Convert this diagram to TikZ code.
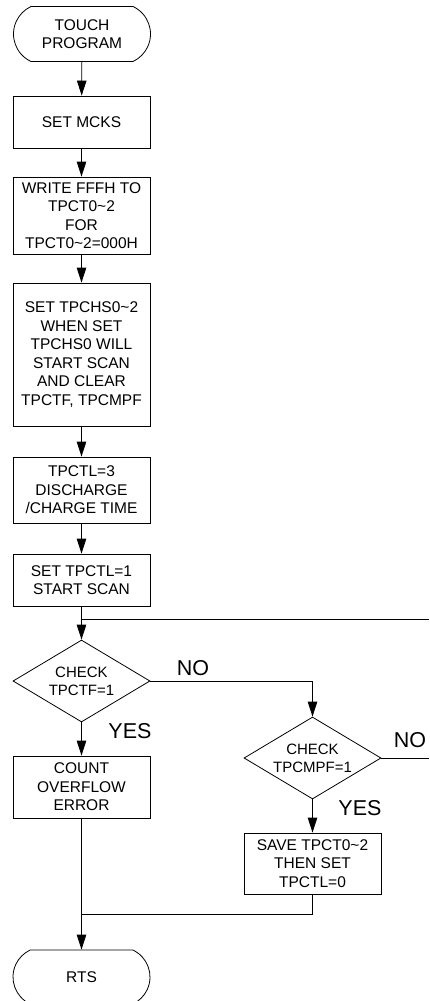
\documentclass[tikz,border=0pt]{standalone}
\usepackage{fontspec}
\setmainfont{Liberation Sans}
\usetikzlibrary{shapes.misc,shapes.geometric,arrows.meta}
\begin{document}
\begin{tikzpicture}[x=1pt,y=-1pt,line width=0.8pt,
  txt/.style={font=\fontsize{15.5}{18.5}\selectfont},
  box/.style={draw, rectangle, minimum width=137pt, inner sep=0pt, align=center, txt},
  term/.style={draw, rounded rectangle, rounded rectangle arc length=130, minimum width=137pt, minimum height=55pt, inner sep=0pt, align=center, txt},
  dec/.style={draw, diamond, aspect=1.67, minimum width=137pt, minimum height=82pt, inner sep=0pt, align=center, font=\fontsize{15}{18}\selectfont},
  lbl/.style={anchor=base, inner sep=0pt, font=\fontsize{21.5}{24}\selectfont},
  arr/.style={-{Triangle[length=15pt,width=9.5pt]}}
]
\useasboundingbox (0,0) rectangle (429,1001);

\node[term] (start) at (82,34) {TOUCH\\PROGRAM};
\node[box, minimum height=52pt] (mcks) at (81.5,122) {SET MCKS};
\node[box, minimum height=77pt] (write) at (81.5,215.5) {WRITE FFFH TO\\TPCT0\textasciitilde2\\FOR\\TPCT0\textasciitilde2=000H};
\node[box, minimum height=143pt] (chs) at (81.5,354.5) {SET TPCHS0\textasciitilde2\\WHEN SET\\TPCHS0 WILL\\START SCAN\\AND CLEAR\\TPCTF, TPCMPF};
\node[box, minimum height=66pt] (ctl3) at (81.5,490) {TPCTL=3\\DISCHARGE\\/CHARGE TIME};
\node[box, minimum height=52pt] (ctl1) at (81.5,580) {SET TPCTL=1\\START SCAN};
\node[dec] (d1) at (81.5,681) {CHECK\\TPCTF=1};
\node[box, minimum height=62pt] (count) at (81.5,787) {COUNT\\OVERFLOW\\ERROR};
\node[dec] (d2) at (312.5,758) {CHECK\\TPCMPF=1};
\node[box, minimum height=61pt] (save) at (312.5,863.5) {SAVE TPCT0\textasciitilde2\\THEN SET\\TPCTL=0};
\node[term, minimum height=54pt] (rts) at (81.5,977) {RTS};

\node[lbl] (no1) at (193,675) {NO};
\node[lbl] (no2) at (410,747) {NO};
\node[lbl] (yes1) at (130,738) {YES};
\node[lbl] (yes2) at (360,815) {YES};

\coordinate (loopR) at (429,619);
\coordinate (noR) at (429,758);
\coordinate (join) at (81.5,914);

\draw[arr] (start) -- (mcks);
\draw[arr] (mcks) -- (write);
\draw[arr] (write) -- (chs);
\draw[arr] (chs) -- (ctl3);
\draw[arr] (ctl3) -- (ctl1);
\draw[arr] (ctl1) -- (d1);
\draw (ctl1.south |- loopR) -- (loopR);
\draw[arr] (d1.east) -| (d2.north);
\draw (d2.east) -- (noR);
\draw[arr] (d1) -- (count);
\draw[arr] (d2) -- (save);
\draw[arr] (count) -- (rts);
\draw (save.south) |- (join);
\end{tikzpicture}
\end{document}
